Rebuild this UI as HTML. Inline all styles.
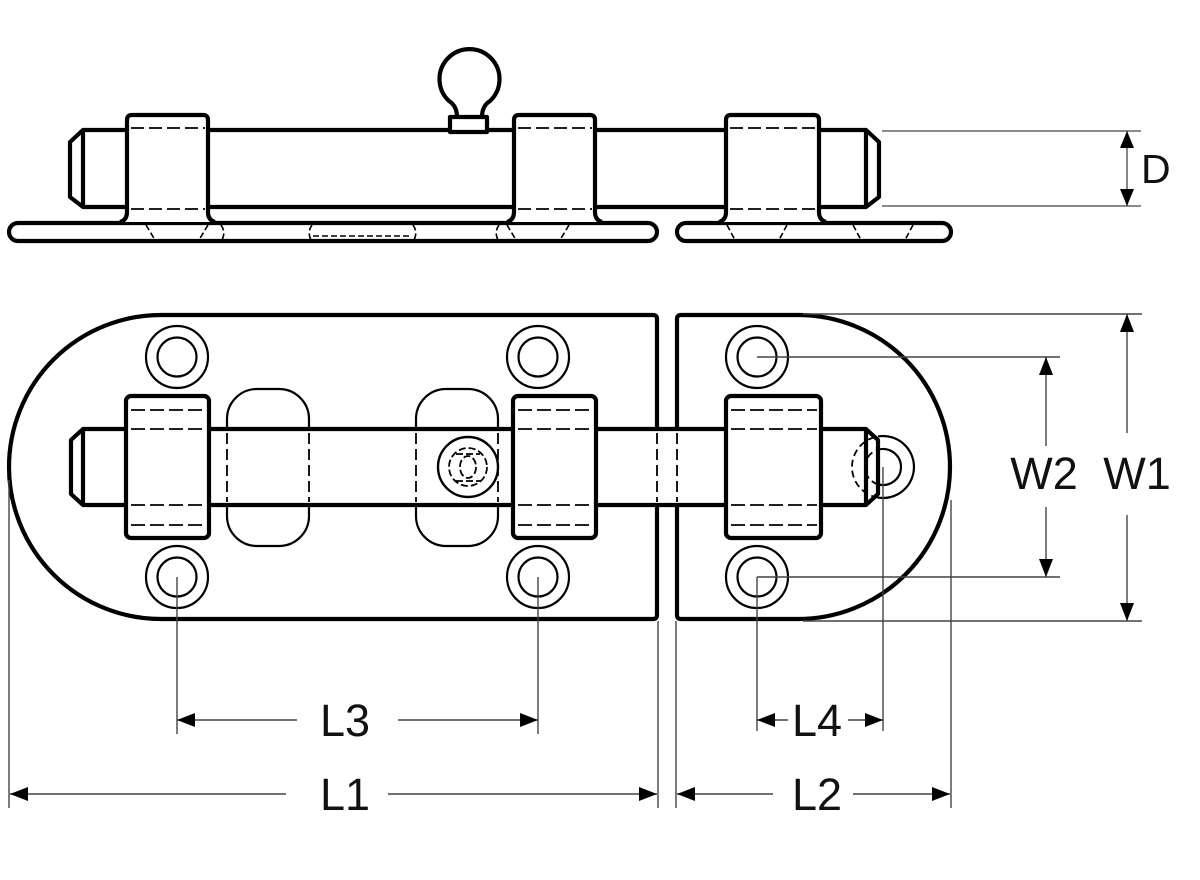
<!DOCTYPE html>
<html>
<head>
<meta charset="utf-8">
<style>
  html,body{margin:0;padding:0;background:#fff;}
  svg{display:block;}
  text{font-family:"Liberation Sans",Arial,sans-serif;fill:#111;}
</style>
</head>
<body>
<svg width="1200" height="880" viewBox="0 0 1200 880" xmlns="http://www.w3.org/2000/svg">
  <rect x="0" y="0" width="1200" height="880" fill="#fff"/>

  <!-- ================= TOP VIEW ================= -->
  <g fill="#fff" stroke="#000" stroke-width="4.2" stroke-linejoin="round">
    <!-- base plates -->
    <rect x="9" y="223" width="648" height="18" rx="9"/>
    <rect x="677" y="223" width="274" height="18" rx="9"/>
  </g>
  <!-- plate hidden features -->
  <g fill="none" stroke="#000" stroke-width="1.6" stroke-dasharray="6,3">
    <line x1="146" y1="225" x2="155" y2="240"/>
    <line x1="208" y1="225" x2="199" y2="240"/>
    <line x1="507" y1="225" x2="516" y2="240"/>
    <line x1="569" y1="225" x2="560" y2="240"/>
    <line x1="727" y1="225" x2="735" y2="240"/>
    <line x1="787" y1="225" x2="779" y2="240"/>
    <line x1="853" y1="225" x2="861" y2="240"/>
    <line x1="913" y1="225" x2="905" y2="240"/>
    <path d="M221,225 Q226,232 222,240"/>
    <path d="M312,225 Q307,232 311,240"/>
    <path d="M413,225 Q418,232 414,240"/>
    <path d="M499,225 Q494,232 498,240"/>
    <line x1="313" y1="236" x2="410" y2="236"/>
  </g>

  <!-- rod -->
  <rect x="83" y="130" width="783" height="77" fill="#fff"/>
  <g fill="none" stroke="#000" stroke-width="4.2" stroke-linejoin="round">
    <line x1="83" y1="130" x2="866" y2="130"/>
    <line x1="83" y1="207" x2="866" y2="207"/>
    <path d="M83,130 L70,142 L70,197 L83,207 Z" fill="#fff"/>
    <path d="M866,130 L879,142 L879,197 L866,207 Z" fill="#fff"/>
  </g>

  <!-- guide blocks (top view) -->
  <g fill="#fff" stroke="#000" stroke-width="4.2" stroke-linejoin="round">
    <path d="M120,222 Q127,220 127,212 L127,120 Q127,115 132,115 L203,115 Q208,115 208,120 L208,212 Q208,220 215,222"/>
    <path d="M507,222 Q514,220 514,212 L514,120 Q514,115 519,115 L590,115 Q595,115 595,120 L595,212 Q595,220 602,222"/>
    <path d="M719,222 Q726,220 726,212 L726,120 Q726,115 731,115 L814,115 Q819,115 819,120 L819,212 Q819,220 826,222"/>
  </g>
  <g fill="none" stroke="#000" stroke-width="1.8" stroke-dasharray="13,5">
    <line x1="131" y1="128" x2="205" y2="128"/>
    <line x1="131" y1="209" x2="205" y2="209"/>
    <line x1="518" y1="128" x2="592" y2="128"/>
    <line x1="518" y1="209" x2="592" y2="209"/>
    <line x1="730" y1="128" x2="816" y2="128"/>
    <line x1="730" y1="209" x2="816" y2="209"/>
  </g>

  <!-- knob (top view) -->
  <g fill="#fff" stroke="#000" stroke-width="4.2" stroke-linejoin="round">
    <path d="M457,117 Q457,106 449,101 A30,30 0 1 1 490,101 Q482,106 482,117"/>
    <rect x="450" y="117" width="37" height="15"/>
  </g>

  <!-- D dimension -->
  <g stroke="#444" stroke-width="1.3" fill="none">
    <line x1="882" y1="131" x2="1141" y2="131"/>
    <line x1="882" y1="206" x2="1141" y2="206"/>
    <line x1="1127" y1="131" x2="1127" y2="206"/>
  </g>
  <g fill="#000">
    <polygon points="1127,131 1120,148 1134,148"/>
    <polygon points="1127,206 1120,189 1134,189"/>
  </g>
  <text x="1141" y="183" font-size="41">D</text>

  <!-- ================= FRONT VIEW ================= -->
  <!-- plates -->
  <g fill="#fff" stroke="#000" stroke-width="4.2" stroke-linejoin="round">
    <path d="M161,315 L653,315 Q657,315 657,319 L657,615 Q657,619 653,619 L161,619 A152,152 0 0 1 161,315 Z"/>
    <path d="M681,315 L798,315 A152,152 0 0 1 798,619 L681,619 Q677,619 677,615 L677,319 Q677,315 681,315 Z"/>
  </g>

  <!-- mounting holes -->
  <g fill="none" stroke="#000" stroke-width="2.2">
    <circle cx="177" cy="357" r="31"/><circle cx="177" cy="357" r="19.5"/>
    <circle cx="177" cy="577" r="31"/><circle cx="177" cy="577" r="19.5"/>
    <circle cx="538" cy="357" r="31"/><circle cx="538" cy="357" r="19.5"/>
    <circle cx="538" cy="577" r="31"/><circle cx="538" cy="577" r="19.5"/>
    <circle cx="757" cy="357" r="31"/><circle cx="757" cy="357" r="19.5"/>
    <circle cx="757" cy="577" r="31"/><circle cx="757" cy="577" r="19.5"/>
  </g>

  <!-- slots -->
  <g fill="none" stroke="#000" stroke-width="2.2">
    <rect x="227" y="389" width="82" height="157" rx="30"/>
    <rect x="416" y="389" width="82" height="157" rx="30"/>
  </g>

  <!-- rod (front) -->
  <rect x="83" y="429" width="783" height="76" fill="#fff"/>
  <g fill="none" stroke="#000" stroke-width="4.2" stroke-linejoin="round">
    <line x1="83" y1="429" x2="866" y2="429"/>
    <line x1="83" y1="505" x2="866" y2="505"/>
    <path d="M83,429 L71,440 L71,494 L83,505 Z" fill="#fff"/>
    <path d="M866,429 L878,440 L878,494 L866,505 Z" fill="#fff"/>
  </g>
  <!-- hidden edges under rod -->
  <g fill="none" stroke="#000" stroke-width="1.8" stroke-dasharray="11,5">
    <line x1="227" y1="433" x2="227" y2="502"/>
    <line x1="309" y1="433" x2="309" y2="502"/>
    <line x1="416" y1="433" x2="416" y2="502"/>
    <line x1="498" y1="433" x2="498" y2="502"/>
    <line x1="657" y1="433" x2="657" y2="502"/>
    <line x1="677" y1="433" x2="677" y2="502"/>
  </g>

  <!-- keeper hole -->
  <g fill="none" stroke="#000" stroke-width="2.2">
    <path d="M878,436.4 A31,31 0 1 1 878,497.6"/>
    <path d="M878,449.7 A18,18 0 1 1 878,484.3"/>
  </g>
  <g fill="none" stroke="#000" stroke-width="1.8" stroke-dasharray="7,4">
    <path d="M878,497.6 A31,31 0 0 1 878,436.4"/>
    <path d="M878,484.3 A18,18 0 0 1 878,449.7"/>
  </g>

  <!-- knob (front) -->
  <circle cx="468" cy="467" r="30" fill="#fff" stroke="#000" stroke-width="2.4"/>
  <g fill="none" stroke="#000" stroke-width="1.8" stroke-dasharray="7,3">
    <circle cx="468" cy="467" r="19"/>
    <ellipse cx="468" cy="467" rx="8" ry="11"/>
    <line x1="456" y1="454" x2="480" y2="454"/>
    <line x1="456" y1="481" x2="480" y2="481"/>
  </g>

  <!-- guide blocks (front) -->
  <g fill="#fff" stroke="#000" stroke-width="4.2">
    <rect x="126" y="396" width="83" height="142" rx="5"/>
    <rect x="513" y="396" width="83" height="142" rx="5"/>
    <rect x="726" y="396" width="95" height="142" rx="5"/>
  </g>
  <g fill="none" stroke="#000" stroke-width="1.8" stroke-dasharray="14,5">
    <line x1="131" y1="410" x2="205" y2="410"/>
    <line x1="131" y1="429" x2="205" y2="429"/>
    <line x1="131" y1="505" x2="205" y2="505"/>
    <line x1="131" y1="525" x2="205" y2="525"/>
    <line x1="518" y1="410" x2="592" y2="410"/>
    <line x1="518" y1="429" x2="592" y2="429"/>
    <line x1="518" y1="505" x2="592" y2="505"/>
    <line x1="518" y1="525" x2="592" y2="525"/>
    <line x1="731" y1="410" x2="817" y2="410"/>
    <line x1="731" y1="429" x2="817" y2="429"/>
    <line x1="731" y1="505" x2="817" y2="505"/>
    <line x1="731" y1="525" x2="817" y2="525"/>
  </g>

  <!-- ================= DIMENSIONS ================= -->
  <g stroke="#444" stroke-width="1.4" fill="none">
    <!-- vertical extension lines -->
    <line x1="9" y1="480" x2="9" y2="808"/>
    <line x1="177" y1="577" x2="177" y2="734"/>
    <line x1="538" y1="577" x2="538" y2="734"/>
    <line x1="658" y1="621" x2="658" y2="808"/>
    <line x1="676" y1="621" x2="676" y2="808"/>
    <line x1="757" y1="577" x2="757" y2="731"/>
    <line x1="883" y1="467" x2="883" y2="731"/>
    <line x1="951" y1="500" x2="951" y2="808"/>
    <!-- horizontal extension lines -->
    <line x1="803" y1="314" x2="1142" y2="314"/>
    <line x1="803" y1="621" x2="1142" y2="621"/>
    <line x1="757" y1="357" x2="1060" y2="357"/>
    <line x1="757" y1="577" x2="1060" y2="577"/>
    <!-- L3 -->
    <line x1="177" y1="720" x2="297" y2="720"/>
    <line x1="398" y1="720" x2="538" y2="720"/>
    <!-- L1 -->
    <line x1="10" y1="794" x2="286" y2="794"/>
    <line x1="388" y1="794" x2="657" y2="794"/>
    <!-- L4 -->
    <line x1="757" y1="720" x2="788" y2="720"/>
    <line x1="848" y1="720" x2="883" y2="720"/>
    <!-- L2 -->
    <line x1="677" y1="794" x2="773" y2="794"/>
    <line x1="853" y1="794" x2="950" y2="794"/>
    <!-- W1 -->
    <line x1="1127" y1="314" x2="1127" y2="433"/>
    <line x1="1127" y1="515" x2="1127" y2="621"/>
    <!-- W2 -->
    <line x1="1046" y1="357" x2="1046" y2="446"/>
    <line x1="1046" y1="507" x2="1046" y2="577"/>
  </g>
  <g fill="#000">
    <!-- L3 -->
    <polygon points="177,720 195,713 195,727"/>
    <polygon points="538,720 520,713 520,727"/>
    <!-- L1 -->
    <polygon points="10,794 28,787 28,801"/>
    <polygon points="657,794 639,787 639,801"/>
    <!-- L4 -->
    <polygon points="757,720 775,713 775,727"/>
    <polygon points="883,720 865,713 865,727"/>
    <!-- L2 -->
    <polygon points="677,794 695,787 695,801"/>
    <polygon points="950,794 932,787 932,801"/>
    <!-- W1 -->
    <polygon points="1127,314 1120,332 1134,332"/>
    <polygon points="1127,621 1120,603 1134,603"/>
    <!-- W2 -->
    <polygon points="1046,357 1039,375 1053,375"/>
    <polygon points="1046,577 1039,559 1053,559"/>
  </g>

  <g font-size="45" text-anchor="middle">
    <text x="345" y="736">L3</text>
    <text x="345" y="810">L1</text>
    <text x="817" y="736">L4</text>
    <text x="817" y="810">L2</text>
    <text x="1044" y="489">W2</text>
    <text x="1137" y="489">W1</text>
  </g>
</svg>
</body>
</html>
